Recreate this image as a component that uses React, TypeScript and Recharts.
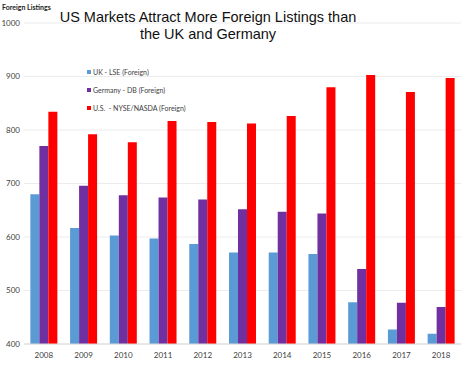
import React from "react";
import { Bar, BarChart, CartesianGrid, XAxis, YAxis } from "recharts";

// values
const years = ["2008", "2009", "2010", "2011", "2012", "2013", "2014", "2015", "2016", "2017", "2018"];
const ukLse = [680, 617, 603, 597, 587, 571, 571, 568, 478, 427, 419];
const germanyDb = [770, 696, 678, 674, 670, 652, 647, 644, 540, 477, 469];
const usNyseNasdaq = [834, 792, 777, 817, 815, 812, 826, 880, 903, 871, 897];
const yTicks = [400, 500, 600, 700, 800, 900, 1000];

const series = [
  { key: "uk", label: "UK - LSE (Foreign)", color: "#5B9BD5" },
  { key: "de", label: "Germany - DB (Foreign)", color: "#7030A0" },
  { key: "us", label: "U.S.  - NYSE/NASDA (Foreign)", color: "#FF0000" },
];

const data = years.map((year, i) => ({
  year,
  uk: ukLse[i],
  de: germanyDb[i],
  us: usNyseNasdaq[i],
}));

const FONT = "Lato, 'Open Sans', sans-serif";
const TICK = { fontSize: 8, fill: "#404040", fontFamily: FONT };
const GRID = "#ececec";

export default function App() {
  return (
    <div style={{ position: "absolute", left: 0, top: 0, width: 466, height: 366, background: "#fff" }}>
      <BarChart
        width={466}
        height={366}
        data={data}
        margin={{ top: 23, right: 5, bottom: 2, left: 0 }}
        barGap={0}
        barCategoryGap="16%"
      >
        <CartesianGrid vertical={false} stroke={GRID} />
        <XAxis dataKey="year" tick={TICK} tickLine={false} axisLine={{ stroke: "#d9d9d9" }} height={20} />
        <YAxis
          domain={[400, 1000]}
          ticks={yTicks}
          tick={TICK}
          tickLine={false}
          tickSize={2}
          axisLine={false}
          width={24}
          allowDataOverflow
        />
        {series.map((s) => (
          <Bar key={s.key} dataKey={s.key} name={s.label} fill={s.color} isAnimationActive={false} />
        ))}
      </BarChart>
      <div
        style={{
          position: "absolute",
          left: 2,
          top: 3,
          fontSize: 7,
          fontWeight: 700,
          fontFamily: FONT,
          color: "#222",
        }}
      >
        Foreign Listings
      </div>
      <div
        style={{
          position: "absolute",
          left: 8,
          width: 400,
          top: 9,
          textAlign: "center",
          whiteSpace: "nowrap",
          fontSize: 14.5,
          lineHeight: "17px",
          fontFamily: "'Liberation Sans', Arial, sans-serif",
          color: "#111",
        }}
      >
        US Markets Attract More Foreign Listings than
        <br />
        the UK and Germany
      </div>
      <div style={{ position: "absolute", left: 87, top: 63, fontSize: 7, fontFamily: FONT, color: "#404040" }}>
        {series.map((s) => (
          <div key={s.key} style={{ height: 18, display: "flex", alignItems: "center", whiteSpace: "pre" }}>
            <span style={{ width: 4, height: 4, background: s.color, marginRight: 2, display: "inline-block" }} />
            {s.label}
          </div>
        ))}
      </div>
    </div>
  );
}
